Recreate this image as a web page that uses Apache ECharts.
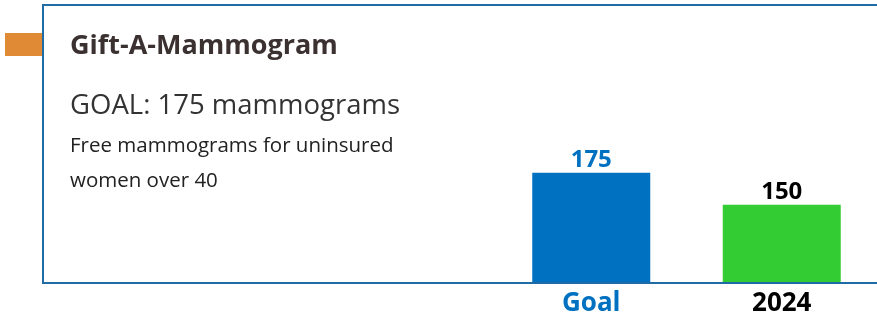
<!DOCTYPE html>
<html><head><meta charset="utf-8">
<script src="https://cdn.jsdelivr.net/npm/echarts@6/dist/echarts.min.js"></script>
<style>html,body{margin:0;padding:0;background:#fff}#c{width:877px;height:317px}</style>
</head><body><div id="c"></div>
<script>
const categories = ['Goal', '2024'];
const values = [175, 150];
const barColors = ['#0070C0', '#33CC33'];
const labelColors = ['#0070C0', '#000000'];
const titleText = 'Gift-A-Mammogram';
const goalText = 'GOAL: 175 mammograms';
const descLines = ['Free mammograms for uninsured', 'women over 40'];

const chart = echarts.init(document.getElementById('c'), null, {renderer: 'canvas'});
const F = '"Open Sans", sans-serif';
chart.setOption({
  animation: false,
  backgroundColor: '#ffffff',
  grid: {left: 496, right: -3, top: 140.6, bottom: 34},
  xAxis: {
    type: 'category', data: categories,
    axisLine: {show: false}, axisTick: {show: false},
    axisLabel: {
      margin: 9, fontSize: 26, fontWeight: 'bold', fontFamily: F,
      color: (v, i) => labelColors[i]
    }
  },
  yAxis: {type: 'value', min: 90, max: 200, show: false, splitLine: {show: false}},
  series: [{
    type: 'bar', barWidth: 118,
    data: values.map((v, i) => ({value: v, itemStyle: {color: barColors[i]},
      label: {color: labelColors[i]}})),
    label: {show: true, position: 'top', distance: 1, fontSize: 24, fontWeight: 'bold', fontFamily: F}
  }],
  graphic: [
    {type: 'rect', z: 100, shape: {x: 43, y: 5, width: 900, height: 278},
     style: {fill: 'none', stroke: '#1F6BA5', lineWidth: 2}},
    {type: 'rect', shape: {x: 5, y: 33, width: 37, height: 23}, style: {fill: '#E08A35'}},
    {type: 'text', x: 70, y: 46, style: {text: titleText, font: 'bold 27px ' + F, fill: '#3B3131', verticalAlign: 'middle'}},
    {type: 'text', x: 70, y: 106, style: {text: goalText, font: '27.5px ' + F, fill: '#333333', verticalAlign: 'middle'}},
    {type: 'text', x: 70, y: 146, style: {text: descLines[0], font: '20.5px ' + F, fill: '#222222', verticalAlign: 'middle'}},
    {type: 'text', x: 70, y: 181, style: {text: descLines[1], font: '20.5px ' + F, fill: '#222222', verticalAlign: 'middle'}}
  ]
});
</script></body></html>
